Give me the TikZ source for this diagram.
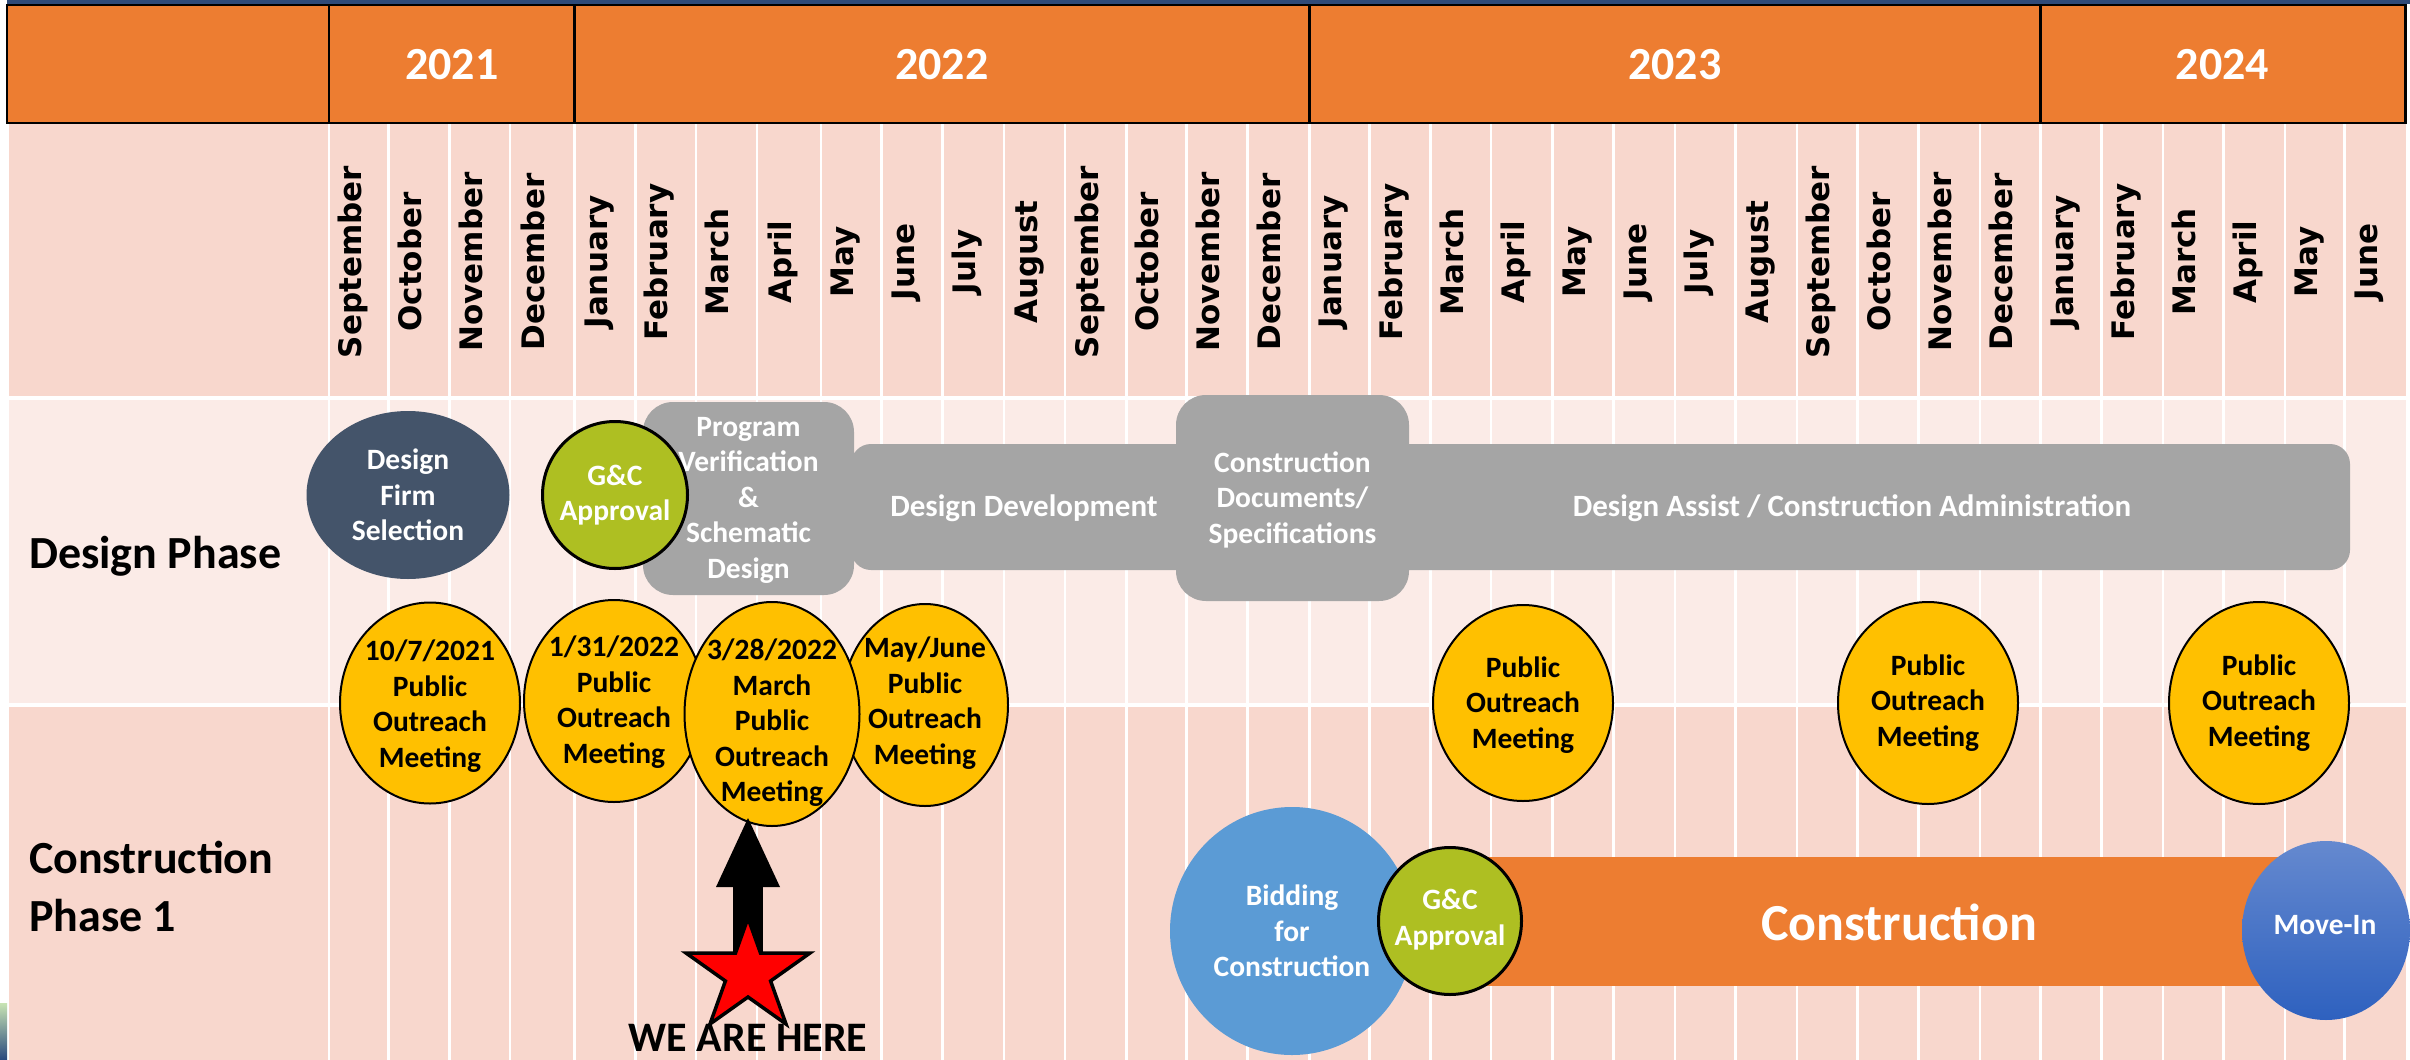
\documentclass[tikz,border=0pt]{standalone}
\usepackage{fontspec}
\setmainfont{Carlito}
\newfontfamily\monthfamily{DejaVu Sans}
\usetikzlibrary{shapes.geometric,arrows.meta}
\definecolor{hdr}{RGB}{237,125,49}
\definecolor{pinkA}{RGB}{248,215,205}
\definecolor{pinkB}{RGB}{251,235,231}
\definecolor{slate}{RGB}{68,84,106}
\definecolor{lime}{RGB}{174,191,34}
\definecolor{grayb}{RGB}{165,165,165}
\definecolor{gold}{RGB}{255,192,0}
\definecolor{sky}{RGB}{91,155,213}
\definecolor{topblue}{RGB}{47,74,120}
\definecolor{movetop}{RGB}{101,137,207}
\definecolor{movebot}{RGB}{46,97,191}
\definecolor{edgegreen}{RGB}{200,228,180}
\definecolor{edgeblue}{RGB}{40,72,125}
\begin{document}
\begin{tikzpicture}[x=1pt,y=-1pt,
  yearlbl/.style={text=white,inner sep=0pt,font=\fontsize{46}{55}\selectfont\bfseries},
  monthlbl/.style={rotate=90,anchor=mid,inner sep=0pt,font=\monthfamily\fontsize{31}{37}\selectfont\bfseries},
  wtxt/.style={text=white,align=center,inner sep=0pt,font=\fontsize{29.5}{35.5}\selectfont\bfseries},
  btxt/.style={text=black,align=center,inner sep=0pt,font=\fontsize{29.5}{35.5}\selectfont\bfseries},
  bartxt/.style={text=white,align=center,inner sep=0pt,font=\fontsize{31}{37}\selectfont\bfseries},
  meetnode/.style={ellipse,draw=black,line width=2pt,fill=gold,inner sep=0pt},
  blob/.style={ellipse,inner sep=0pt},
  graybox/.style={rectangle,fill=grayb,rounded corners=30pt,inner sep=0pt},
  rowlbl/.style={text=black,inner sep=0pt,align=left,font=\fontsize{46}{58}\selectfont\bfseries},
  gridline/.style={white,line width=2.5pt},
]
\useasboundingbox (0,0) rectangle (2410,1060);
\fill[white] (0,0) rectangle (2410,1060);
\fill[topblue] (7,0) rectangle (2410,3.5);
\shade[top color=edgegreen,bottom color=edgeblue] (0,1003) rectangle (7,1060);
% row backgrounds
\fill[pinkA] (9,123) rectangle (2405.5,1060);
\fill[pinkB] (9,398) rectangle (2405.5,705);
% month grid lines
\foreach \xx in {329,388.7,449.7,510.1,574.4,635.4,695.8,756.8,821.1,881.5,942.5,1004.2,1065.2,1126.3,1186.6,1247.6,1309.3,1369.3,1430.6,1491.2,1552.4,1613.7,1674.9,1735.5,1796.8,1857.3,1918.6,1979.9,2040.4,2101.7,2162.9,2223.5,2284.8,2344.7}
  \draw[gridline] (\xx,123) -- (\xx,1060);
\draw[white,line width=4pt] (9,398) -- (2405.5,398);
\draw[white,line width=4pt] (9,705) -- (2405.5,705);
% header
\draw[fill=hdr,line width=2.5pt] (7,5) rectangle (2405.5,123);
\foreach \xx in {329,574.4,1309.3,2040.4}
  \draw[line width=2.5pt] (\xx,5) -- (\xx,123);
\node[yearlbl] (y2021) at (451.7,65) {2021};
\node[yearlbl] (y2022) at (941.9,65) {2022};
\node[yearlbl] (y2023) at (1674.9,65) {2023};
\node[yearlbl] (y2024) at (2222.5,65) {2024};
% months
\foreach \m/\cx [count=\i] in {September/358.85,October/419.2,November/479.9,December/542.25,January/604.9,February/665.6,March/726.3,April/788.95,May/851.3,June/912,July/973.35,August/1034.7,September/1095.75,October/1156.45,November/1217.1,December/1278.45,January/1339.3,February/1399.95,March/1460.9,April/1521.8,May/1583.05,June/1644.3,July/1705.2,August/1766.15,September/1827.05,October/1887.95,November/1949.25,December/2010.15,January/2071.05,February/2132.3,March/2193.2,April/2254.15,May/2314.75,June/2374.65}
  \node[monthlbl] (m\i) at (\cx,262) {\m};
% row labels
\node[rowlbl,anchor=base west] (dphase) at (29,568) {Design Phase};
\node[rowlbl,anchor=west] (cphase) at (29,886) {Construction\\Phase 1};
% design phase
\node[blob,fill=slate,minimum width=203pt,minimum height=168pt] (dfs) at (408,495) {};
\node[wtxt] (dfst) at (dfs.center) {Design\\Firm\\Selection};
\node[rectangle,fill=grayb,rounded corners=20pt,inner sep=0pt,minimum width=1499pt,minimum height=126pt] (bar) at (1600.5,507) {};
\node[graybox,minimum width=211pt,minimum height=193pt] (prog) at (748.5,498.5) {};
\node[wtxt] (progt) at (748.5,500) {Program\\Verification\\\&\\Schematic\\Design};
\node[blob,fill=lime,draw=black,line width=3pt,minimum width=145pt,minimum height=147pt] (gc1) at (615,495) {};
\node[wtxt] (gc1t) at (gc1.center) {G\&C\\Approval};
\node[bartxt] (ddev) at (1024,508) {Design Development};
\node[graybox,minimum width=233pt,minimum height=206pt] (cdoc) at (1292.5,498) {};
\node[wtxt] (cdoct) at (1292.5,499.5) {Construction\\Documents/\\Specifications};
\node[bartxt] (daca) at (1852,508) {Design Assist / Construction Administration};
% public outreach meetings
\node[meetnode,minimum width=180pt,minimum height=201pt] (ma) at (430,703) {};
\node[btxt] (mat) at (430,706) {10/7/2021\\Public\\Outreach\\Meeting};
\node[meetnode,minimum width=180pt,minimum height=202pt] (mb) at (614,701) {};
\node[btxt] (mbt) at (614,702) {1/31/2022\\Public\\Outreach\\Meeting};
\node[meetnode,minimum width=166pt,minimum height=202pt] (md) at (925,705) {};
\node[btxt] (mdt) at (925,703) {May/June\\Public\\Outreach\\Meeting};
\node[meetnode,minimum width=175pt,minimum height=224pt] (mc) at (772,714) {};
\node[btxt] (mct) at (772,723) {3/28/2022\\March\\Public\\Outreach\\Meeting};
\node[meetnode,minimum width=180pt,minimum height=196pt] (me) at (1523,703) {};
\node[btxt] (met) at (1523,705) {Public\\Outreach\\Meeting};
\node[meetnode,minimum width=180pt,minimum height=202pt] (mf) at (1928,703) {};
\node[btxt] (mft) at (1928,703) {Public\\Outreach\\Meeting};
\node[meetnode,minimum width=180pt,minimum height=202pt] (mg) at (2259,703) {};
\node[btxt] (mgt) at (2259,703) {Public\\Outreach\\Meeting};
% construction phase
\node[rectangle,fill=hdr,inner sep=0pt,minimum width=840pt,minimum height=129pt] (cbar) at (1860,921.5) {};
\node[text=white,inner sep=0pt,font=\fontsize{52}{62}\selectfont\bfseries] (cbart) at (1899,922) {Construction};
\node[blob,fill=sky,minimum width=244pt,minimum height=248pt] (bid) at (1292,931) {};
\node[wtxt] (bidt) at (bid.center) {Bidding\\for\\Construction};
\node[blob,fill=lime,draw=black,line width=3pt,minimum width=143pt,minimum height=147pt] (gc2) at (1450,921) {};
\node[wtxt] (gc2t) at (1450,919.5) {G\&C\\Approval};
\node[blob,top color=movetop,bottom color=movebot,minimum width=168pt,minimum height=179pt] (move) at (2326,930.5) {};
\node[wtxt] (movet) at (2325,925) {Move-In};
% we are here
\coordinate (heretip) at (748,818);
\coordinate (heretail) at (748,985);
\draw[line width=30pt,-{Triangle[length=69pt,width=64pt,line width=0pt]}] (heretail) -- (heretip);
\draw[fill=red,line width=3.5pt,line join=miter] (748,918) -- (760.5,953) -- (810,953) -- (770.6,981) -- (786,1024) -- (748,997) -- (710,1024) -- (725.4,981) -- (686,953) -- (735.5,953) -- cycle;
\node[inner sep=0pt,anchor=base,font=\fontsize{42}{50}\selectfont\bfseries] (here) at (748,1051) {WE ARE HERE};
\end{tikzpicture}
\end{document}
